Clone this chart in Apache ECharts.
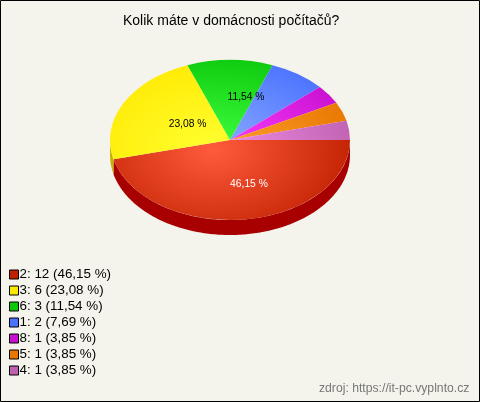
<!DOCTYPE html>
<html><head><meta charset="utf-8">
<style>html,body{margin:0;padding:0;background:#f5f4ec}#c{width:480px;height:402px}</style>
<script src="https://cdn.jsdelivr.net/npm/echarts@6/dist/echarts.min.js"></script>
</head><body><div id="c"></div>
<script>
var categories = ['2','3','6','1','8','5','4'];
var counts = [12,6,3,2,1,1,1];
var percents = ['46,15','23,08','11,54','7,69','3,85','3,85','3,85'];
var baseColors = ['#bf2000','#ffe800','#0cc80c','#4a72ff','#c810d0','#e87800','#c060b0'];
var lightColors = ['#ff5a3c','#ffff30','#40ff40','#8cacff','#ff40ff','#ffa030','#f090e8'];
var sideColors = ['#a80000','#c8b400','#0a960a','#3050c0','#900090','#b05800','#904080'];
var labelShown = [true,true,true,false,false,false,false];
var labelColors = ['#ffffff','#000000','#000000','#000000','#000000','#000000','#000000'];
var labelNudge = [[11,0],[16,5],[16,1],[0,0],[0,0],[0,0],[0,0]];

var total = counts.reduce(function(a,b){return a+b;},0);
var CX=230, CY=140, RX=120, RY=80, DEPTH=15;
var starts=[], acc=0;
counts.forEach(function(v){starts.push(acc);acc+=v;});
var chart = echarts.init(document.getElementById('c'),null,{renderer:'canvas'});

function makeSeries(i){
  return {
    type:'custom', name:categories[i]+': '+counts[i]+' ('+percents[i]+' %)',
    coordinateSystem:'none', silent:true, z:2,
    itemStyle:{color:baseColors[i]},
    data:[counts[i]], animation:false,
    renderItem:function(){
      var a0=starts[i]/total*Math.PI*2, a1=(starts[i]+counts[i])/total*Math.PI*2;
      var children=[];
      var s0=Math.min(a0,Math.PI), s1=Math.min(a1,Math.PI);
      if(s1>s0){
        var top=[],bot=[],n=Math.max(4,Math.ceil((s1-s0)*60));
        for(var k=0;k<=n;k++){
          var t=s0+(s1-s0)*k/n, x=CX+RX*Math.cos(t), y=CY+RY*Math.sin(t);
          top.push([x,y]); bot.unshift([x,y+DEPTH]);
        }
        children.push({type:'polygon',shape:{points:top.concat(bot)},style:{fill:sideColors[i]}});
      }
      children.push({type:'sector',x:CX,y:CY,scaleY:RY/RX,
        shape:{cx:0,cy:0,r0:0,r:RX,startAngle:a0,endAngle:a1,clockwise:true},
        style:{fill:new echarts.graphic.RadialGradient(-17,15,150,[
          {offset:0,color:lightColors[i]},{offset:1,color:baseColors[i]}],true)}});
      return {type:'group',children:children};
    }
  };
}
function makeLabelSeries(){
  return {
    type:'custom', coordinateSystem:'none', silent:true, z:5, animation:false,
    data:counts,
    renderItem:function(params){
      var i=params.dataIndex;
      if(!labelShown[i]) return {type:'group',children:[]};
      var m=(starts[i]+counts[i]/2)/total*Math.PI*2;
      return {type:'text',
        x:CX+0.55*RX*Math.cos(m)+labelNudge[i][0],
        y:CY+0.55*RY*Math.sin(m)+labelNudge[i][1],
        style:{text:percents[i]+' %',fill:labelColors[i],font:'10.3px "Liberation Sans"',align:'center',verticalAlign:'middle'}};
    }
  };
}
chart.setOption({
  backgroundColor:'#f5f4ec', animation:false,
  title:{text:'Kolik máte v domácnosti počítačů?',left:118,top:9,
    textStyle:{fontFamily:'Liberation Sans',fontSize:14,fontWeight:'normal',color:'#000'}},
  legend:{orient:'vertical',left:4,top:263,itemWidth:9,itemHeight:9,itemGap:3,icon:'rect',
    data:categories.map(function(c,i){return c+': '+counts[i]+' ('+percents[i]+' %)';}),
    textStyle:{fontFamily:'Liberation Sans',fontSize:13.4,lineHeight:12,color:'#000',padding:[0,0,0,-4]},
    itemStyle:{borderColor:'#000',borderWidth:1},selectedMode:false},
  series:categories.map(function(c,i){return makeSeries(i);}).concat([makeLabelSeries()]),
  graphic:[
    {type:'rect',shape:{x:0.5,y:0.5,width:479,height:401},style:{fill:'none',stroke:'#000',lineWidth:1},silent:true,z:100},
    {type:'text',left:319,top:383,style:{text:'zdroj: https://it-pc.vyplnto.cz',fill:'#777',font:'12.2px "Liberation Sans"'},silent:true}
  ]
});
</script></body></html>
